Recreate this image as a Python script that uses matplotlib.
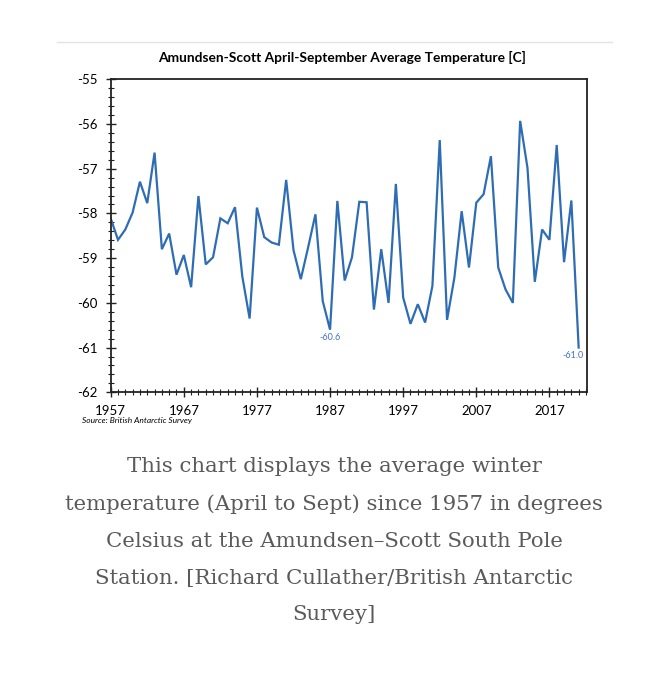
import matplotlib
matplotlib.use("Agg")
import matplotlib.pyplot as plt
from matplotlib.ticker import MultipleLocator
from matplotlib.lines import Line2D
import numpy as np

# winter (Apr-Sep) mean temperature at the South Pole
years = np.arange(1957, 2022)
temps = [-58.11, -58.59, -58.36, -57.98, -57.29, -57.77, -56.64, -58.80, -58.45, -59.37,
         -58.93, -59.65, -57.61, -59.14, -58.98, -58.11, -58.22, -57.86, -59.41, -60.35,
         -57.87, -58.53, -58.65, -58.70, -57.25, -58.82, -59.47, -58.76, -58.02, -59.96,
         -60.6, -57.72, -59.50, -58.98, -57.74, -57.75, -60.15, -58.80, -60.00, -57.34,
         -59.88, -60.47, -60.03, -60.44, -59.62, -56.36, -60.38, -59.44, -57.95, -59.21,
         -57.76, -57.57, -56.72, -59.21, -59.70, -60.00, -55.93, -56.98, -59.53, -58.36,
         -58.59, -56.47, -59.09, -57.71, -61.0]
label_years = [1987, 2021]
label_texts = ["-60.6", "-61.0"]

caption = ("This chart displays the average winter\n"
           "temperature (April to Sept) since 1957 in degrees\n"
           "Celsius at the Amundsen\u2013Scott South Pole\n"
           "Station. [Richard Cullather/British Antarctic\n"
           "Survey]")

font = ["Lato", "DejaVu Sans"]
blue = "#2e6db4"

fig = plt.figure(figsize=(6.68, 6.80), dpi=100)
ax = fig.add_axes([0.1657, 0.4231, 0.8783 - 0.1657, 0.8834 - 0.4231])

ax.plot(years, temps, color=blue, lw=1.6, solid_joinstyle="miter")

# data labels under the two lowest points
for yr, txt, dx in zip(label_years, label_texts, [0, -4]):
    v = temps[list(years).index(yr)]
    ax.annotate(txt, (yr, v), xytext=(dx, -2.5), textcoords="offset points",
                ha="center", va="top", fontsize=6.5, color="#4472c4", family=font)

ax.set_xlim(1957, 2022.1)
ax.set_ylim(-62, -55)
ax.set_xticks(np.arange(1957, 2018, 10))
ax.xaxis.set_minor_locator(MultipleLocator(1))
ax.yaxis.set_major_locator(MultipleLocator(1))
ax.yaxis.set_minor_locator(MultipleLocator(0.2))
ax.set_yticklabels([f"{int(t)}" for t in ax.get_yticks()])

for s in ax.spines.values():
    s.set_color("#222222")
    s.set_linewidth(1.3)

ax.tick_params(axis="both", which="major", direction="inout", length=7, width=1,
               color="#222222", labelsize=9.5)
ax.tick_params(axis="both", which="minor", direction="inout", length=4, width=0.8,
               color="#222222")
ax.tick_params(axis="x", which="major", pad=6)
ax.tick_params(axis="y", which="major", pad=6)
ax.tick_params(top=False, right=False, which="both")
for lbl in ax.get_xticklabels() + ax.get_yticklabels():
    lbl.set_family(font)

fig.text(0.512, 0.916, "Amundsen-Scott April-September Average Temperature [C]",
         ha="center", va="center", fontsize=9.9, fontweight="bold", family=font)
fig.text(0.123, 0.382, "Source: British Antarctic Survey", ha="left", va="center",
         fontsize=6, style="italic", family=font)

fig.add_artist(Line2D([57 / 668, 612 / 668], [1 - 42 / 680] * 2,
                      transform=fig.transFigure, color="#e3e3e3", lw=1))

fig.text(0.5, 0.328, caption, ha="center", va="top", fontsize=15.3,
         family="DejaVu Serif", color="#5a5a5a", linespacing=2.18)

fig.savefig("out.png", dpi=100)
